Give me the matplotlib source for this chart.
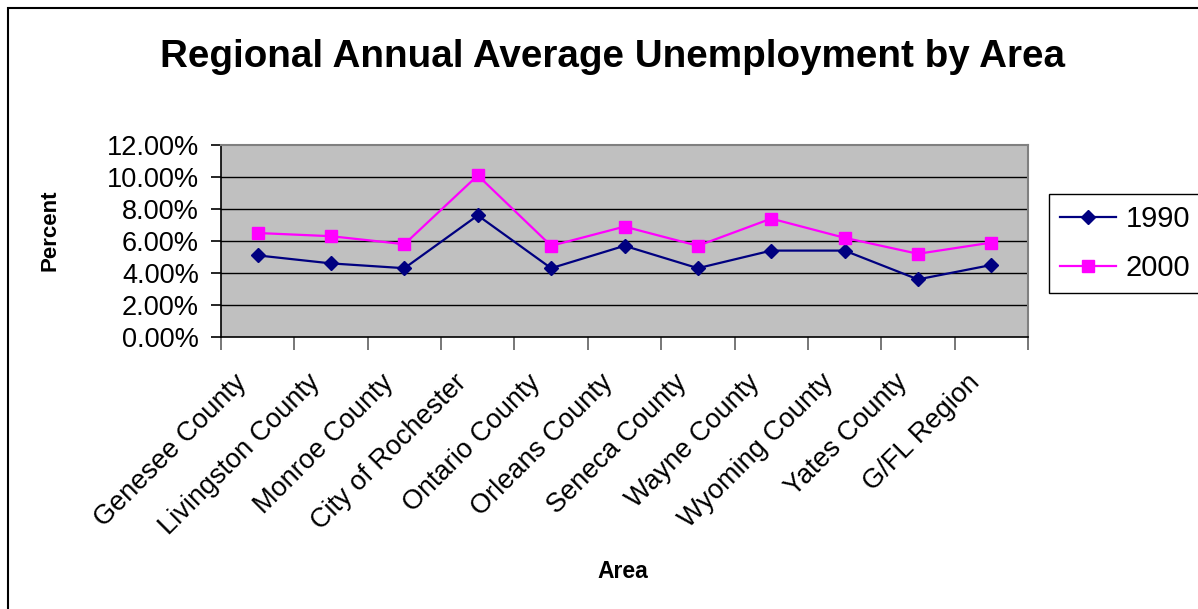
import matplotlib
matplotlib.use('Agg')
import matplotlib.pyplot as plt
import matplotlib.transforms as mtransforms
from matplotlib.patches import Rectangle

plt.rcParams['font.family'] = ['Liberation Sans', 'DejaVu Sans']

# данные
areas = ['Genesee County', 'Livingston County', 'Monroe County', 'City of Rochester',
         'Ontario County', 'Orleans County', 'Seneca County', 'Wayne County',
         'Wyoming County', 'Yates County', 'G/FL Region']
rate_1990 = [5.1, 4.6, 4.3, 7.6, 4.3, 5.7, 4.3, 5.4, 5.4, 3.6, 4.5]
rate_2000 = [6.5, 6.3, 5.8, 10.1, 5.7, 6.9, 5.7, 7.4, 6.2, 5.2, 5.9]
y_ticks = [0, 2, 4, 6, 8, 10, 12]

W, H = 1198, 609
fig = plt.figure(figsize=(W / 100, H / 100), dpi=100)

# рамка вокруг всей диаграммы
fig.patches.append(Rectangle((8 / W, -0.1), 1.2, 1.1 - 8 / H, transform=fig.transFigure,
                             fill=False, edgecolor='black', linewidth=1.5))

left, right, top, bottom = 221, 1028, 145, 337
ax = fig.add_axes([left / W, 1 - bottom / H, (right - left) / W, (bottom - top) / H])
ax.set_facecolor('#C0C0C0')

x = list(range(len(areas)))
ax.plot(x, rate_1990, color='#000080', marker='D', markersize=6.8, linewidth=1.6,
        label='1990', zorder=3)
ax.plot(x, rate_2000, color='#FF00FF', marker='s', markersize=8.5, linewidth=1.6,
        label='2000', zorder=3)

ax.set_xlim(-0.5, len(areas) - 0.5)
ax.set_ylim(0, 12)
ax.set_yticks(y_ticks)
ax.set_yticklabels([f'{v:.2f}%' for v in y_ticks], fontsize=19.5)
for v in y_ticks[1:-1]:
    ax.axhline(v, color='black', linewidth=1, zorder=1)

# штрихи между категориями, подписи по центру категорий
ax.set_xticks([i - 0.5 for i in range(len(areas) + 1)])
ax.set_xticklabels([])
ax.tick_params(axis='x', which='major', length=9, color='#606060', width=1.2)
ax.set_xticks(x, minor=True)
ax.set_xticklabels(areas, minor=True, rotation=45, ha='right', va='center',
                   rotation_mode='anchor', fontsize=19.5)
ax.tick_params(axis='x', which='minor', length=0, pad=34 * 0.72 + 5.5)
offset = mtransforms.ScaledTranslation(-0.15, 0, fig.dpi_scale_trans)
for lbl in ax.get_xticklabels(minor=True):
    lbl.set_transform(lbl.get_transform() + offset)
ax.tick_params(axis='y', length=7, width=1.2, color='black', pad=9)

for s in ['top', 'right']:
    ax.spines[s].set_color('#808080')
    ax.spines[s].set_linewidth(1.5)
for s in ['left', 'bottom']:
    ax.spines[s].set_color('black')
    ax.spines[s].set_linewidth(1.2)

fig.text(612 / W, 1 - 67 / H, 'Regional Annual Average Unemployment by Area',
         ha='center', va='baseline', fontsize=27.8, fontweight='bold')
fig.text(50 / W, 1 - 230 / H, 'Percent', rotation=90, ha='center', va='center',
         fontsize=16, fontweight='bold')
fig.text(623 / W, 1 - 578 / H, 'Area', ha='center', va='baseline',
         fontsize=16.5, fontweight='bold')

leg = fig.legend(loc='upper left', bbox_to_anchor=(1049 / W, 1 - 194 / H),
                 fontsize=21, frameon=True, fancybox=False, framealpha=1,
                 edgecolor='black', borderaxespad=0, handlelength=1.9,
                 borderpad=0.38, labelspacing=0.72, handletextpad=0.35)
leg.get_frame().set_linewidth(1.0)

fig.savefig('out.png', dpi=100)
